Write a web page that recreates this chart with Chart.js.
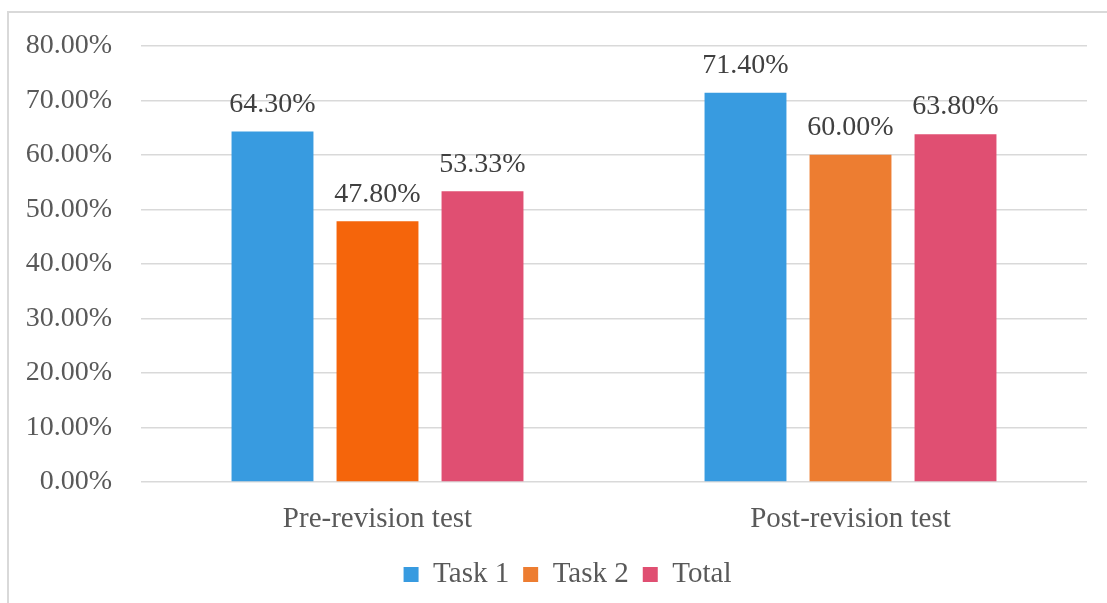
<!DOCTYPE html>
<html>
<head>
<meta charset="utf-8">
<script src="https://cdn.jsdelivr.net/npm/chart.js@4.4.1/dist/chart.umd.min.js"></script>
<style>
  body { margin: 0; background: #fff; overflow: hidden; }
  #frame { position: absolute; left: 7px; top: 11px; width: 1200px; height: 700px;
           border-left: 2px solid #d9d9d9; border-top: 2px solid #d9d9d9; }
  #chart { position: absolute; left: 0; top: 0; }
</style>
</head>
<body>
<div id="frame"></div>
<canvas id="chart" width="1107" height="603"></canvas>
<script>
const categories = ['Pre-revision test', 'Post-revision test'];
const task1 = [64.3, 71.4];
const task2 = [47.8, 60.0];
const total = [53.33, 63.8];
const yTicks = [0, 10, 20, 30, 40, 50, 60, 70, 80];

const serif = "'Times New Roman', 'Liberation Serif', serif";

// writes the value over each bar
const valueLabels = {
    id: 'valueLabels',
    afterDatasetsDraw(chart) {
        const ctx = chart.ctx;
        ctx.save();
        ctx.font = '28px ' + serif;
        ctx.fillStyle = '#404040';
        ctx.textAlign = 'center';
        ctx.textBaseline = 'middle';
        chart.data.datasets.forEach((ds, i) => {
            chart.getDatasetMeta(i).data.forEach((bar, j) => {
                ctx.fillText(ds.data[j].toFixed(2) + '%', bar.x, bar.y - 27);
            });
        });
        ctx.restore();
    }
};

// nudge the legend a bit to the right
const legendShift = {
    id: 'legendShift',
    afterLayout(chart) {
        chart.legend.left += 24;
        chart.legend.right += 24;
    }
};

new Chart(document.getElementById('chart'), {
    type: 'bar',
    data: {
        labels: categories,
        datasets: [
            { label: 'Task 1', data: task1, backgroundColor: '#389be0' },
            { label: 'Task 2', data: task2, backgroundColor: ['#f5650b', '#ed7d31'] },
            { label: 'Total', data: total, backgroundColor: '#e04f72' }
        ]
    },
    options: {
        responsive: false,
        animation: false,
        layout: { padding: { top: 39, right: 20, left: 0, bottom: 4 } },
        categoryPercentage: 0.666,
        barPercentage: 0.78,
        plugins: {
            tooltip: { enabled: false },
            legend: {
                position: 'bottom',
                labels: {
                    font: { family: serif, size: 29 },
                    color: '#595959',
                    boxWidth: 15,
                    boxHeight: 15,
                    padding: 14,
                    generateLabels(chart) {
                        const cols = ['#389be0', '#ed7d31', '#e04f72'];
                        return chart.data.datasets.map((ds, i) => ({
                            text: ds.label, fillStyle: cols[i], strokeStyle: cols[i],
                            lineWidth: 0, datasetIndex: i, fontColor: '#595959'
                        }));
                    }
                }
            }
        },
        scales: {
            x: {
                grid: { display: false },
                border: { display: false },
                ticks: { font: { family: serif, size: 29 }, color: '#595959', padding: 12 },
                afterFit(s) { s.height = 64; }
            },
            y: {
                min: 0,
                max: 80,
                afterBuildTicks(s) { s.ticks = yTicks.map(v => ({ value: v })); },
                grid: { color: '#d9d9d9', lineWidth: 1.5, drawTicks: false },
                border: { display: false },
                ticks: {
                    font: { family: serif, size: 28 },
                    color: '#595959',
                    padding: 29,
                    callback: v => v.toFixed(2) + '%'
                },
                afterFit(s) { s.width = 141; }
            }
        }
    },
    plugins: [valueLabels, legendShift]
});
</script>
</body>
</html>
